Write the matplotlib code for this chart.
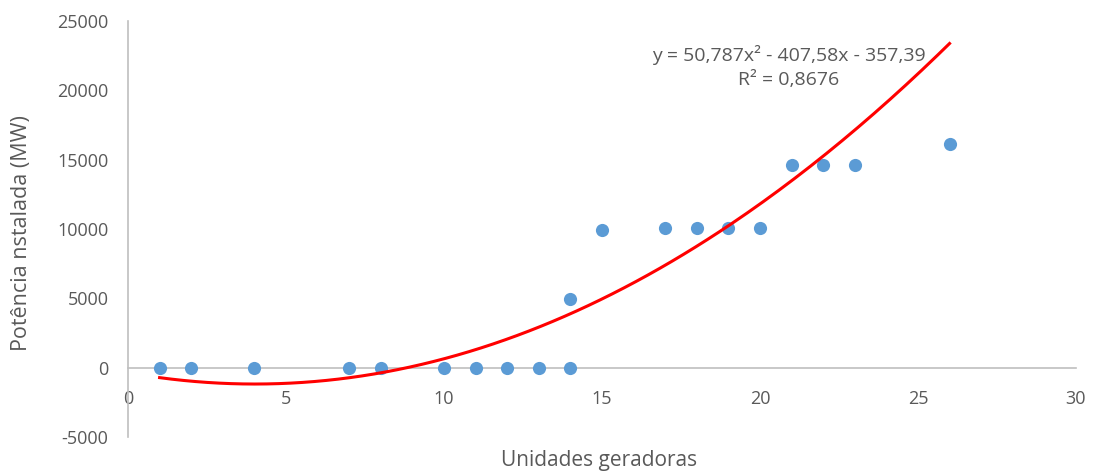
import numpy as np
import matplotlib.pyplot as plt

plt.rcParams['font.family'] = ['Open Sans', 'DejaVu Sans']
plt.rcParams['axes.unicode_minus'] = False

# generating units per plant vs installed power (MW)
unidades = [1, 2, 4, 7, 8, 10, 11, 12, 13, 14, 14, 15, 17, 18, 19, 20, 21, 22, 23, 26]
potencia = [0, 0, 0, 0, 0, 0, 0, 0, 0, 0, 4980, 9900, 10050, 10050, 10050, 10050,
            14650, 14650, 14650, 16150]

# quadratic trendline coefficients
coef = [50.787, -407.58, -357.39]
r2 = 0.8676

x_ticks = [0, 5, 10, 15, 20, 25, 30]
y_ticks = [-5000, 0, 5000, 10000, 15000, 20000, 25000]

gray = '#595959'
axis_gray = '#BFBFBF'

fig = plt.figure(figsize=(10.94, 4.72), dpi=100)
ax = fig.add_axes([0.117, 0.074, 0.8665, 0.8815])

ax.scatter(unidades, potencia, s=90, color='#5B9BD5', zorder=3, linewidths=0)

xs = np.linspace(min(unidades), max(unidades), 200)
ax.plot(xs, np.polyval(coef, xs), color='#FF0000', lw=2.2, zorder=4)

ax.set_xlim(0, 30)
ax.set_ylim(-5000, 25000)
ax.set_xticks(x_ticks)
ax.set_yticks(y_ticks)

ax.spines['top'].set_visible(False)
ax.spines['right'].set_visible(False)
ax.spines['bottom'].set_position(('data', 0))
ax.spines['bottom'].set_color(axis_gray)
ax.spines['left'].set_color(axis_gray)
ax.spines['bottom'].set_linewidth(1.2)
ax.spines['left'].set_linewidth(1.2)

ax.tick_params(axis='x', length=0, pad=16, labelsize=13, labelcolor=gray)
ax.tick_params(axis='y', length=0, pad=14, labelsize=13, labelcolor=gray)

fig.text(0.020, 0.506, 'Potência nstalada (MW)', rotation=90, ha='center', va='center',
         fontsize=15.5, color=gray)
fig.text(0.548, 0.025, 'Unidades geradoras', ha='center', va='center',
         fontsize=15, color=gray)

eq = 'y = {}x² - {}x - {}'.format(
    f'{coef[0]:.3f}'.replace('.', ','),
    f'{-coef[1]:.2f}'.replace('.', ','),
    f'{-coef[2]:.2f}'.replace('.', ','))
ax.text(20.9, 21700, eq + '\n' + 'R² = ' + f'{r2:.4f}'.replace('.', ','),
        ha='center', va='center', fontsize=14, color=gray, linespacing=1.45)

fig.savefig('out.png', dpi=100)
